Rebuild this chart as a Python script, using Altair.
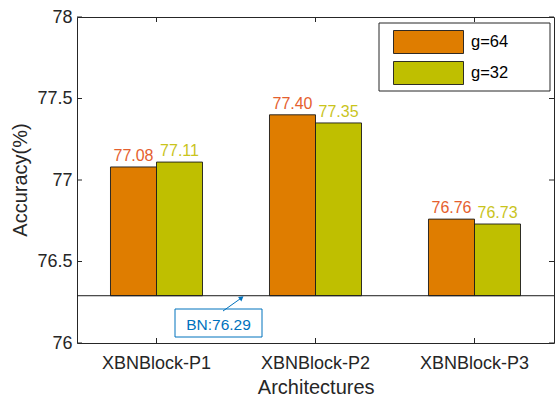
import altair as alt
import pandas as pd

# ---- data ----
archs = ["XBNBlock-P1", "XBNBlock-P2", "XBNBlock-P3"]
series = ["g=64", "g=32"]
g64 = [77.08, 77.40, 76.76]
g32 = [77.11, 77.35, 76.73]
bn_value = 76.29
bn_label = "BN:76.29"
y_ticks = [76, 76.5, 77, 77.5, 78]

rows = []
for a, v64, v32 in zip(archs, g64, g32):
    rows.append({"arch": a, "series": "g=64", "acc": v64})
    rows.append({"arch": a, "series": "g=32", "acc": v32})
df = pd.DataFrame(rows)
df_yt = pd.DataFrame({"acc": y_ticks})
df_xt = pd.DataFrame({"arch": archs})
df_one = pd.DataFrame({"acc": [bn_value], "label": [bn_label]})

# ---- style ----
W, H = 477, 326
FONT = "Liberation Sans"
AX = "#262626"
bar_colors = ["#DF7D00", "#BFBF00"]
text_colors = ["#E5602E", "#C9C41C"]
BLUE = "#0072BD"

xscale = alt.Scale(domain=archs, paddingInner=0, paddingOuter=0)
yscale = alt.Scale(domain=[76, 78], nice=False, zero=False)
offscale = alt.Scale(domain=series, paddingInner=0, paddingOuter=0.728)

x_axis = alt.Axis(title="Architectures", labelAngle=0, ticks=False,
                  domain=False, grid=False, labelPadding=25.5, labelBaseline="alphabetic",
                  titleX=238.7, titleY=50, titleAlign="center", titleBaseline="alphabetic")
y_axis = alt.Axis(title="Accuracy(%)", values=y_ticks, labelExpr="'' + datum.value",
                  ticks=False, domain=False, grid=False, labelPadding=5,
                  titleAngle=270, titleX=-51, titleY=162.5, titleAlign="center",
                  titleBaseline="alphabetic")

def X(field="arch:N"):
    return alt.X(field, scale=xscale, sort=archs, axis=x_axis)

def Y(field="acc:Q"):
    return alt.Y(field, scale=yscale, axis=y_axis)

base = alt.Chart(df)

# legend swatch: 70 x 23 px rectangle (path units scaled by sqrt(size)/2 = 17)
bars = base.mark_bar(stroke="#1a1a1a", strokeWidth=0.9).encode(
    x=X(),
    xOffset=alt.XOffset("series:N", sort=series, scale=offscale),
    y=Y(),
    y2=alt.datum(bn_value),
    color=alt.Color("series:N", sort=series,
                    scale=alt.Scale(domain=series, range=bar_colors),
                    legend=alt.Legend(title=None, orient="none", legendX=334, legendY=7.5,
                                      symbolType="M-2.0588,-0.6765H2.0588V0.6765H-2.0588Z",
                                      symbolSize=1156,
                                      symbolOpacity=1, symbolStrokeColor="#1a1a1a",
                                      symbolStrokeWidth=0.9, labelFont=FONT,
                                      labelFontSize=16.5, labelColor="#000000",
                                      labelOffset=25, rowPadding=0, padding=0)),
)

labels = base.mark_text(baseline="alphabetic", dy=-6, fontSize=16, font=FONT).encode(
    x=X(),
    xOffset=alt.XOffset("series:N", sort=series, scale=offscale),
    y=Y(),
    text=alt.Text("acc:Q", format=".2f"),
    color=alt.Color("series:N", sort=series,
                    scale=alt.Scale(domain=series, range=text_colors), legend=None),
)

bn_line = alt.Chart(df_one).mark_rule(color="#1a1a1a", strokeWidth=1).encode(
    y=Y(), x=alt.value(0), x2=alt.value(W))

yt_left = alt.Chart(df_yt).mark_rule(color=AX, strokeWidth=1).encode(
    y=Y(), x=alt.value(0), x2=alt.value(5))
yt_right = alt.Chart(df_yt).mark_rule(color=AX, strokeWidth=1).encode(
    y=Y(), x=alt.value(W - 5), x2=alt.value(W))
xt_bot = alt.Chart(df_xt).mark_rule(color=AX, strokeWidth=1).encode(
    x=X(), y=alt.value(H - 5), y2=alt.value(H))
xt_top = alt.Chart(df_xt).mark_rule(color=AX, strokeWidth=1).encode(
    x=X(), y=alt.value(0), y2=alt.value(5))

legend_frame = alt.Chart(df_one).mark_rect(fill="white", stroke=AX, strokeWidth=1).encode(
    x=alt.value(302), x2=alt.value(473), y=alt.value(6), y2=alt.value(74))

bn_box = alt.Chart(df_one).mark_rect(fill="white", stroke=BLUE, strokeWidth=1).encode(
    x=alt.value(98), x2=alt.value(185), y=alt.value(292), y2=alt.value(320))
bn_text = alt.Chart(df_one).mark_text(font=FONT, fontSize=15.5, color=BLUE,
                                       align="center", baseline="alphabetic").encode(
    x=alt.value(141.5), y=alt.value(313), text="label:N")
bn_arrow = alt.Chart(df_one).mark_rule(color=BLUE, strokeWidth=1).encode(
    x=alt.value(146), x2=alt.value(164.6), y=alt.value(294), y2=alt.value(280.8))
bn_head = alt.Chart(df_one).mark_point(shape="triangle-up", filled=True, color=BLUE,
                                        opacity=1, size=30, angle=53).encode(
    x=alt.value(164.6), y=alt.value(280.8))

chart = alt.layer(
    bars, labels, bn_line, yt_left, yt_right, xt_bot, xt_top,
    legend_frame, bn_box, bn_text, bn_arrow, bn_head
).resolve_scale(color="independent").properties(
    width=W, height=H,
    autosize=alt.AutoSizeParams(type="none"),
    padding={"left": 77, "top": 17, "right": 1, "bottom": 52},
    background="white",
).configure(
    font=FONT,
    view=alt.ViewConfig(stroke=AX, strokeWidth=1),
    axis=alt.AxisConfig(labelFont=FONT, labelFontSize=18, labelColor=AX,
                        titleFont=FONT, titleFontSize=20, titleColor=AX,
                        titleFontWeight="normal"),
)

chart.save("out.html", embed_options={"renderer": "svg", "actions": False})
